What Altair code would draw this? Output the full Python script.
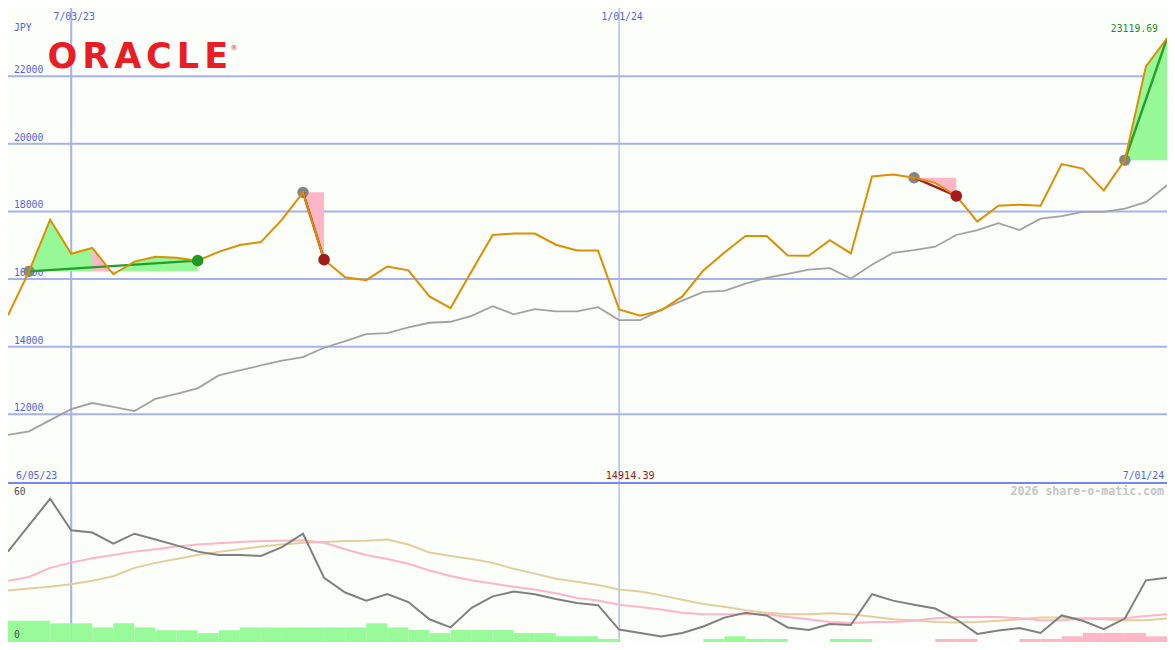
import altair as alt
import pandas as pd

# ---------------- data ----------------
week_idx = list(range(56))          # weekly points, 12 Jun 2023 .. 1 Jul 2024
price = [14929, 16228, 17757, 16747, 16921, 16141, 16517, 16661, 16632, 16545,
         16805, 17007, 17094, 17757, 18566, 16574, 16055, 15968, 16372, 16257,
         15486, 15140, 16228, 17305, 17345, 17345, 17016, 16843, 16843, 15103,
         14914.39, 15074, 15486, 16257, 16785, 17276, 17276, 16699, 16690, 17152,
         16757, 19036, 19094, 18999, 18846, 18459, 17700, 18171, 18200, 18171,
         19403, 19267, 18624, 19518, 22289, 23119.69]
moving_avg = [11388, 11495, 11827, 12150, 12332, 12216, 12092, 12456, 12606, 12765,
              13149, 13299, 13443, 13587, 13688, 13968, 14164, 14372, 14401, 14569,
              14707, 14736, 14909, 15198, 14958, 15111, 15045, 15045, 15169, 14785,
              14785, 15094, 15362, 15622, 15651, 15862, 16035, 16150, 16277, 16323,
              16017, 16421, 16776, 16854, 16958, 17304, 17449, 17651, 17449, 17786,
              17864, 17988, 17988, 18084, 18277, 18776]
osc_gray = [37.8, 48.9, 59.9, 46.7, 45.8, 41.1, 45.3, 42.9, 40.4, 37.8,
            36.4, 36.4, 36.0, 39.7, 45.3, 26.8, 20.7, 17.3, 20.1, 16.7,
            9.5, 6.1, 14.3, 19.1, 21.1, 20.0, 18.0, 16.3, 15.4, 5.2,
            3.8, 2.3, 3.8, 6.5, 10.2, 12.2, 11.1, 6.1, 5.0, 7.5,
            7.1, 20.0, 17.3, 15.6, 14.0, 9.5, 3.4, 4.8, 5.8, 3.8,
            11.1, 8.9, 5.4, 9.8, 25.8, 26.9]
osc_pink = [25.6, 27.2, 31.0, 33.2, 35.0, 36.4, 37.8, 38.8, 39.9, 40.8,
            41.3, 41.8, 42.2, 42.4, 42.6, 41.5, 38.8, 36.4, 34.7, 32.7,
            29.9, 27.6, 25.8, 24.5, 23.1, 22.0, 20.4, 18.4, 17.4, 15.6,
            14.6, 13.6, 12.2, 11.6, 11.6, 11.6, 11.6, 10.5, 9.5, 8.4,
            7.9, 8.4, 8.4, 8.9, 9.9, 10.5, 10.5, 10.5, 9.9, 9.1,
            9.1, 9.8, 9.9, 9.9, 10.9, 11.6]
osc_tan = [21.5, 22.4, 23.1, 24.2, 25.6, 27.5, 31.0, 33.1, 34.7, 36.4,
           37.7, 38.8, 39.9, 40.8, 41.5, 41.8, 42.2, 42.4, 42.9, 40.8,
           37.4, 36.0, 34.7, 33.1, 30.6, 28.6, 26.5, 25.2, 23.8, 22.0,
           21.1, 19.5, 17.7, 15.9, 14.7, 13.3, 12.2, 11.6, 11.6, 12.0,
           11.6, 10.6, 9.5, 9.1, 8.4, 8.2, 8.4, 8.9, 9.5, 10.2,
           10.2, 9.8, 9.5, 9.1, 9.1, 9.8]
# weekly histogram (positive = green, negative = pink), one per interval
bar_vals = [8.9, 8.9, 7.8, 7.8, 6.1, 7.8, 6.1, 4.9, 4.9, 3.7,
            4.9, 6.1, 6.1, 6.1, 6.1, 6.1, 6.1, 7.8, 6.1, 5.0,
            3.7, 5.0, 5.0, 5.0, 3.7, 3.7, 2.4, 2.4, 1.3, 0,
            0, 0, 0, 1.3, 2.4, 1.3, 1.3, 0, 0, 1.3,
            1.3, 0, 0, 0, -1.3, -1.3, 0, 0, -1.3, -1.3,
            -2.4, -3.8, -3.8, -3.8, -2.4]

grid_levels = [12000, 14000, 16000, 18000, 20000, 22000]
vgrid_idx = [3, 29]
vgrid_labels = ["7/03/23", "1/01/24"]
range_labels = ["6/05/23", "7/01/24"]
osc_ticks = [0, 60]
currency = "JPY"
logo_letters = ["O", "R", "A", "C", "L", "E"]
watermark = "2026 share-o-matic.com"

# trade signals
sig_start = [1, 14, 43, 53]
sig_end = [9, 15, 45, 55]
sig_win = [True, False, False, True]
sig_open = [False, False, False, True]
loss_spans = [(4, 5)]   # pink shading inside the first trade

# ---------------- layout / style ----------------
W, H = 1159, 634
SX, SY = W / 1175, H / 650
TOP_H = 487 * SY
Y_TOP = [9965, 24020]
Y_BOT = [0, 66.5]

BG = "#fcfefa"
GRID = "#a6b2f0"
LBL = "#5262f0"
MONO = "DejaVu Sans Mono"
FS = 9.8

xs = alt.Scale(domain=[0, 55], nice=False, zero=False)
ys_top = alt.Scale(domain=Y_TOP, range=[TOP_H, 0], nice=False, zero=False)
ys_bot = alt.Scale(domain=Y_BOT, range=[H, TOP_H], nice=False, zero=False)


def X(f):
    return alt.X(f, type="quantitative", scale=xs, axis=None)


def YT(f):
    return alt.Y(f, type="quantitative", scale=ys_top, axis=None, stack=None)


def YB(f):
    return alt.Y(f, type="quantitative", scale=ys_bot, axis=None, stack=None)


df = pd.DataFrame({"i": week_idx, "price": price, "ma": moving_avg,
                   "og": osc_gray, "op": osc_pink, "ot": osc_tan})

# bars
bars = pd.DataFrame({"i0": list(range(len(bar_vals))), "val": bar_vals})
bars["i1"] = bars["i0"] + 1
bars["v"] = bars["val"].abs()
bars["zero"] = 0.0

# fills
rows = []
for k, (s, e) in enumerate(zip(sig_start, sig_end)):
    for j in range(s, e + 1):
        rows.append({"sig": k, "i": j, "p": price[j], "base": price[s], "win": sig_win[k]})
for m, (a, b) in enumerate(loss_spans):
    for j in range(a, b + 1):
        rows.append({"sig": 100 + m, "i": j, "p": price[j], "base": price[sig_start[0]], "win": False})
fills = pd.DataFrame(rows)

trend = pd.DataFrame([{"sig": k, "i": j, "p": price[j], "win": sig_win[k]}
                      for k, (s, e) in enumerate(zip(sig_start, sig_end)) for j in (s, e)])
entries = pd.DataFrame({"i": sig_start, "p": [price[s] for s in sig_start]})
exits = pd.DataFrame({"i": sig_end, "p": [price[e] for e in sig_end],
                      "win": sig_win, "open": sig_open})
exits = exits[~exits["open"]]

layers = []

# grid
layers.append(alt.Chart(pd.DataFrame({"lvl": grid_levels})).mark_rule(
    color=GRID, strokeWidth=2).encode(y=YT("lvl")))
layers.append(alt.Chart(pd.DataFrame({"i": vgrid_idx, "w": [2.0, 1.3]})).mark_rule(
    color=GRID).encode(x=X("i"), strokeWidth=alt.StrokeWidth("w:Q", scale=None)))
layers.append(alt.Chart(pd.DataFrame({"lvl": grid_levels, "lab": [str(v) for v in grid_levels]})).mark_text(
    align="left", baseline="alphabetic", dy=-3, font=MONO, fontSize=FS, color=LBL).encode(
    x=alt.value(6 * SX), y=YT("lvl"), text="lab:N"))
# separator between panels
layers.append(alt.Chart(pd.DataFrame({"lvl": [Y_TOP[0]]})).mark_rule(
    color="#7787ee", strokeWidth=2).encode(y=YT("lvl")))

# bottom histogram
for cond, col in ((bars["val"] > 0, "#98fa98"), (bars["val"] < 0, "#ffb7c8")):
    layers.append(alt.Chart(bars[cond]).mark_rect(color=col).encode(
        x=X("i0"), x2="i1", y=YB("v"), y2="zero"))

# trade fills
layers.append(alt.Chart(fills[fills["win"]]).mark_area(color="#96f896", opacity=1).encode(
    x=X("i"), y=YT("p"), y2="base", detail="sig:N"))
layers.append(alt.Chart(fills[~fills["win"]]).mark_area(color="#ffb7c8", opacity=1).encode(
    x=X("i"), y=YT("p"), y2="base", detail="sig:N"))

# moving average
layers.append(alt.Chart(df).mark_line(color="#a2a2a2", strokeWidth=1.8).encode(
    x=X("i"), y=YT("ma")))
# entry circles
layers.append(alt.Chart(entries).mark_circle(size=130, color="#858585", opacity=1).encode(
    x=X("i"), y=YT("p")))
# trend lines
layers.append(alt.Chart(trend[trend["win"]]).mark_line(color="#22a028", strokeWidth=2.4).encode(
    x=X("i"), y=YT("p"), detail="sig:N"))
layers.append(alt.Chart(trend[~trend["win"]]).mark_line(color="#a41c1c", strokeWidth=2.4).encode(
    x=X("i"), y=YT("p"), detail="sig:N"))
# price
layers.append(alt.Chart(df).mark_line(color="#dc9000", strokeWidth=2).encode(
    x=X("i"), y=YT("price")))
# exit circles
layers.append(alt.Chart(exits[exits["win"]]).mark_circle(size=135, color="#229a22", opacity=1).encode(
    x=X("i"), y=YT("p")))
layers.append(alt.Chart(exits[~exits["win"]]).mark_circle(size=135, color="#a21c1c", opacity=1).encode(
    x=X("i"), y=YT("p")))

# bottom oscillator lines
layers.append(alt.Chart(df).mark_line(color="#e4cd9e", strokeWidth=2).encode(x=X("i"), y=YB("ot")))
layers.append(alt.Chart(df).mark_line(color="#ffb4c8", strokeWidth=2).encode(x=X("i"), y=YB("op")))
layers.append(alt.Chart(df).mark_line(color="#808080", strokeWidth=2).encode(x=X("i"), y=YB("og")))

# texts
layers.append(alt.Chart(pd.DataFrame({"i": vgrid_idx, "lab": vgrid_labels})).mark_text(
    align="center", baseline="alphabetic", dx=3, font=MONO, fontSize=FS, color=LBL).encode(
    x=X("i"), y=alt.value(12 * SY), text="lab:N"))
layers.append(alt.Chart(pd.DataFrame({"lab": [currency]})).mark_text(
    align="left", baseline="alphabetic", font=MONO, fontSize=FS, color=LBL).encode(
    x=alt.value(6 * SX), y=alt.value(24 * SY), text="lab:N"))
layers.append(alt.Chart(pd.DataFrame({"lab": [range_labels[0]]})).mark_text(
    align="left", baseline="alphabetic", font=MONO, fontSize=FS, color=LBL).encode(
    x=alt.value(8 * SX), y=alt.value(483 * SY), text="lab:N"))
layers.append(alt.Chart(pd.DataFrame({"lab": [range_labels[1]]})).mark_text(
    align="right", baseline="alphabetic", font=MONO, fontSize=FS, color=LBL).encode(
    x=alt.value(1172 * SX), y=alt.value(483 * SY), text="lab:N"))
imax = price.index(max(price))
imin = price.index(min(price))
layers.append(alt.Chart(pd.DataFrame({"i": [imax], "lab": [f"{max(price):.2f}"]})).mark_text(
    align="right", baseline="alphabetic", font=MONO, fontSize=FS, color="#229028", dx=-9).encode(
    x=X("i"), y=alt.value(25 * SY), text="lab:N"))
layers.append(alt.Chart(pd.DataFrame({"i": [imin], "lab": [f"{min(price):.2f}"]})).mark_text(
    align="center", baseline="alphabetic", font=MONO, fontSize=10.2, color="#a01818", dx=-10).encode(
    x=X("i"), y=alt.value(483 * SY), text="lab:N"))
layers.append(alt.Chart(pd.DataFrame({"v": osc_ticks, "lab": [str(v) for v in osc_ticks]})).mark_text(
    align="left", baseline="alphabetic", dy=-4, font=MONO, fontSize=FS, color="#505050").encode(
    x=alt.value(6 * SX), y=YB("v"), text="lab:N"))
layers.append(alt.Chart(pd.DataFrame({"lab": [watermark]})).mark_text(
    align="right", baseline="alphabetic", font=MONO, fontSize=11.6, fontWeight="bold",
    color="#c6c6c6").encode(x=alt.value(1172 * SX), y=alt.value(499 * SY), text="lab:N"))

# logo
logo_cx = [55, 89, 121.5, 153, 182.5, 211]
layers.append(alt.Chart(pd.DataFrame({"ch": logo_letters, "px": [c * SX for c in logo_cx]})).mark_text(
    align="center", baseline="alphabetic", font="DejaVu Sans", fontSize=35, fontWeight="bold",
    color="#ea1c24").encode(x=alt.X("px:Q", scale=None, axis=None), y=alt.value(62 * SY), text="ch:N"))
layers.append(alt.Chart(pd.DataFrame({"ch": ["®"]})).mark_text(
    align="center", baseline="middle", font="DejaVu Sans", fontSize=7, color="#ea1c24").encode(
    x=alt.value(229 * SX), y=alt.value(41 * SY), text="ch:N"))

chart = alt.layer(*layers).resolve_scale(y="independent").properties(
    width=W, height=H, padding=0, autosize=alt.AutoSizeParams(type="none")
).configure(background=BG).configure_view(strokeWidth=0)

chart.save("out.html", embed_options={"renderer": "svg", "actions": False})
